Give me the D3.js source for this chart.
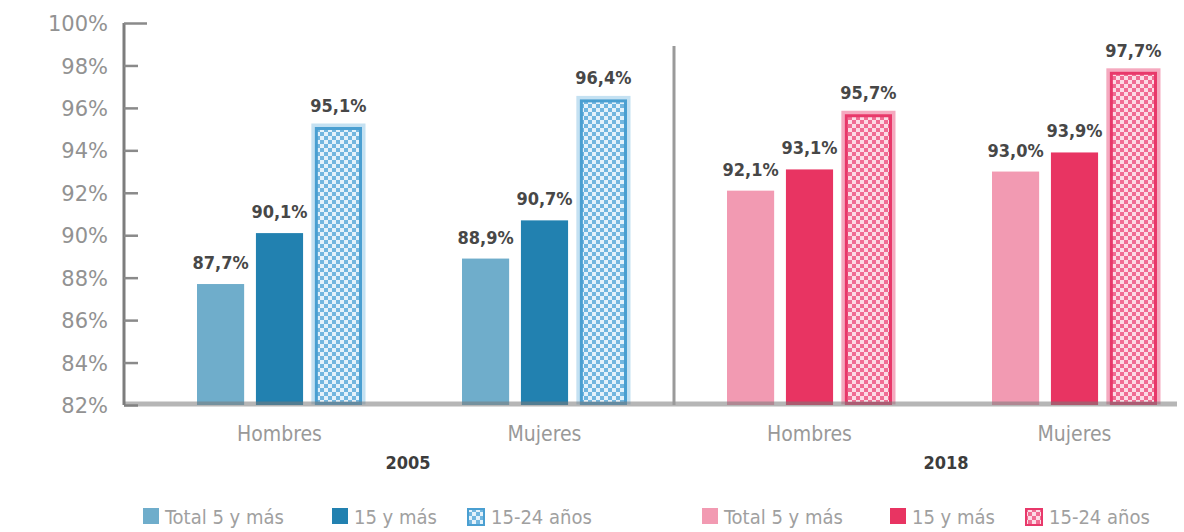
<!DOCTYPE html>
<html lang="es">
<head>
<meta charset="utf-8">
<script src="https://cdn.jsdelivr.net/npm/d3@7"></script>
<style>
  html, body { margin: 0; padding: 0; background: #fff; }
  svg { display: block; }
  .cond { font-family: "DejaVu Sans Condensed", "DejaVu Sans", sans-serif; font-stretch: condensed; }
</style>
</head>
<body>
<svg id="chart" width="1184" height="532"></svg>
<script>
// Categories: two years, each split by sex
const groupYear = ["2005", "2005", "2018", "2018"];
const groupSex  = ["Hombres", "Mujeres", "Hombres", "Mujeres"];
const years     = ["2005", "2018"];

// Series (age groups) and their values per category, in %
const seriesNames = ["Total 5 y más", "15 y más", "15-24 años"];
const total5ymas  = [87.7, 88.9, 92.1, 93.0];
const de15ymas    = [90.1, 90.7, 93.1, 93.9];
const de15a24     = [95.1, 96.4, 95.7, 97.7];

// Y axis ticks
const yTicks = [82, 84, 86, 88, 90, 92, 94, 96, 98, 100];

const seriesValues = [total5ymas, de15ymas, de15a24];

// Palettes per year
const palette = {
  "2005": { light: "#6fadcb", dark: "#2281b0", stroke: "#4a9fd1", bg: "#72b6df", check: "#e4f2fb", halo: "#c4e1f2" },
  "2018": { light: "#f29ab2", dark: "#e83462", stroke: "#e8386a", bg: "#f06c93", check: "#fcdbe5", halo: "#f5a9bf" }
};

const svg = d3.select("#chart");
const defs = svg.append("defs");

// Checkered hatch fill used for the 15-24 años series
years.forEach(yr => {
  const p = palette[yr];
  const pat = defs.append("pattern")
    .attr("id", "hatch-" + yr)
    .attr("width", 8).attr("height", 8)
    .attr("patternUnits", "userSpaceOnUse");
  pat.append("rect").attr("width", 8).attr("height", 8).attr("fill", p.bg);
  pat.append("rect").attr("x", 0).attr("y", 0).attr("width", 4).attr("height", 4).attr("fill", p.check);
  pat.append("rect").attr("x", 4).attr("y", 4).attr("width", 4).attr("height", 4).attr("fill", p.check);
});

// Scales
const y = d3.scaleLinear().domain([82, 100]).range([405, 23]);
const groupIdx = d3.range(groupSex.length);
const x0 = d3.scaleBand().domain(groupIdx).range([147, 1207]).paddingInner(0).paddingOuter(0);
const x1 = d3.scaleBand().domain(d3.range(seriesNames.length))
  .range([50, x0.bandwidth() - 50]).paddingInner(0.2).paddingOuter(0);

const locale = d3.formatLocale({ decimal: ",", thousands: ".", grouping: [3], currency: ["", "%"] });
const fmt = locale.format(".1f");

// Y axis (ticks point into the plot)
const axisX = 124;
const yAxis = svg.append("g")
  .attr("transform", `translate(${axisX},0)`)
  .call(d3.axisLeft(y).tickValues(yTicks).tickSize(-14).tickPadding(16).tickFormat(d => d + "%"));
yAxis.select(".domain").attr("stroke", "#7d7d7d").attr("stroke-width", 3)
  .attr("d", `M0,${y(100)}V${y(82)}`);
yAxis.selectAll(".tick line").attr("stroke", "#8a8a8a").attr("stroke-width", 2.5);
yAxis.selectAll(".tick").filter(d => d === 100).select("line").attr("x2", 23);
yAxis.selectAll(".tick text")
  .attr("fill", "#929292")
  .attr("font-family", "'DejaVu Sans', sans-serif")
  .attr("font-size", 21)
  .attr("dy", "0.36em");

// Bars
const plot = svg.append("g");
groupIdx.forEach(g => {
  const yr = groupYear[g];
  const p = palette[yr];
  const gx = x0(g);
  seriesValues.forEach((vals, s) => {
    const v = vals[g];
    const bx = gx + x1(s);
    const bw = x1.bandwidth();
    const top = y(v);
    const h = y(82) - top;
    if (s < 2) {
      plot.append("rect")
        .attr("x", bx).attr("y", top).attr("width", bw).attr("height", h)
        .attr("fill", s === 0 ? p.light : p.dark);
    } else {
      // soft halo, then hatched body with a solid border
      plot.append("rect")
        .attr("x", bx - 0.5).attr("y", top - 0.5).attr("width", bw + 1).attr("height", h - 3)
        .attr("fill", "none").attr("stroke", p.halo).attr("stroke-width", 6);
      plot.append("rect")
        .attr("x", bx + 1.5).attr("y", top + 1.5).attr("width", bw - 3).attr("height", h - 3)
        .attr("fill", `url(#hatch-${yr})`).attr("stroke", p.stroke).attr("stroke-width", 3);
    }
    plot.append("text")
      .attr("class", "cond")
      .attr("x", bx + bw / 2).attr("y", top - 15)
      .attr("text-anchor", "middle")
      .attr("font-size", 18).attr("font-weight", "bold")
      .attr("fill", "#474747")
      .text(fmt(v) + "%");
  });
});

// Baseline along 82%
svg.append("line")
  .attr("x1", axisX).attr("x2", 1177)
  .attr("y1", y(82) - 1).attr("y2", y(82) - 1)
  .attr("stroke", "#7a7a7a").attr("stroke-opacity", 0.55).attr("stroke-width", 5);

// Separator between the two years
const sepX = x0(2) - 3;
svg.append("line")
  .attr("x1", sepX).attr("x2", sepX)
  .attr("y1", y(98.92)).attr("y2", y(82))
  .attr("stroke", "#9a9a9a").attr("stroke-width", 3);

// Category labels
groupIdx.forEach(g => {
  svg.append("text")
    .attr("class", "cond")
    .attr("x", x0(g) + x0.bandwidth() / 2).attr("y", 441)
    .attr("text-anchor", "middle")
    .attr("font-size", 21).attr("fill", "#999")
    .text(groupSex[g]);
});

// Year labels under each pair of categories
years.forEach(yr => {
  const idx = groupIdx.filter(g => groupYear[g] === yr);
  const cx = (x0(idx[0]) + x0(idx[idx.length - 1]) + x0.bandwidth()) / 2;
  svg.append("text")
    .attr("class", "cond")
    .attr("x", cx + (yr === "2005" ? -4 : 4)).attr("y", 469)
    .attr("text-anchor", "middle")
    .attr("font-size", 18).attr("font-weight", "bold").attr("fill", "#3c3c3c")
    .text(yr);
});

// Legends, one per year
const legendItems = [
  { yr: "2005", xs: [143, 332, 467] },
  { yr: "2018", xs: [702, 890, 1025] }
];
legendItems.forEach(({ yr, xs }) => {
  const p = palette[yr];
  seriesNames.forEach((name, s) => {
    const lx = xs[s];
    if (s < 2) {
      svg.append("rect").attr("x", lx).attr("y", 508).attr("width", 16).attr("height", 16)
        .attr("fill", s === 0 ? p.light : p.dark);
    } else {
      svg.append("rect").attr("x", lx + 1).attr("y", 509).attr("width", 16).attr("height", 16)
        .attr("fill", `url(#hatch-${yr})`).attr("stroke", p.stroke).attr("stroke-width", 2);
    }
    svg.append("text")
      .attr("class", "cond")
      .attr("x", lx + (s < 2 ? 22 : 24)).attr("y", 524)
      .attr("font-size", 20).attr("fill", "#a0a0a0")
      .text(name);
  });
});
</script>
</body>
</html>
